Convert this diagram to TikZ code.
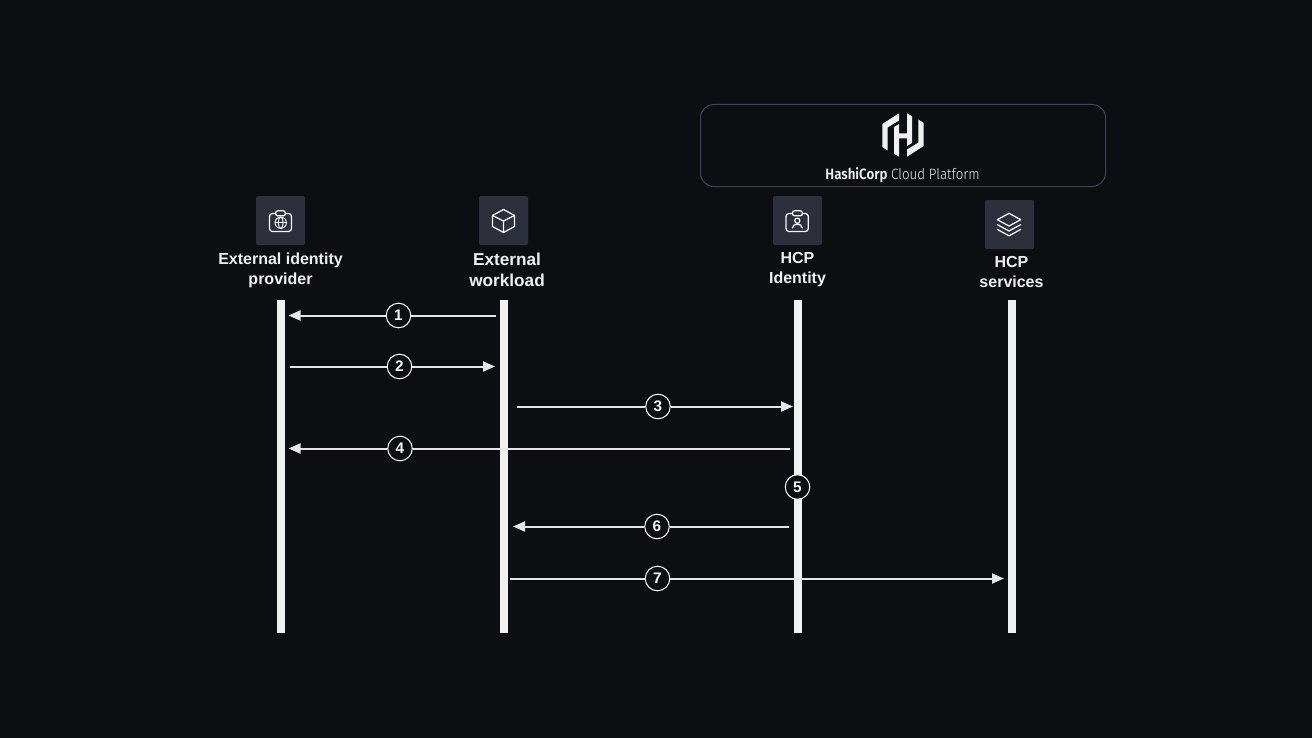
\documentclass[tikz,border=0pt]{standalone}
\usepackage{fontspec}
\setmainfont{Liberation Sans}
\newfontfamily\logofont[FakeStretch=0.89,UprightFont={* Light},BoldFont={* SemiBold}]{Fira Sans}
\usetikzlibrary{arrows.meta}
\tikzset{
  bar/.style={draw=none,fill={rgb, 255:red, 240; green, 240; blue, 240 },minimum width=6pt,minimum height=249.75pt,inner sep=0pt},
  iconbox/.style={draw=none,fill={rgb, 255:red, 44; green, 48; blue, 60 },rounded corners=1pt,minimum width=36.75pt,minimum height=36.75pt,inner sep=0pt},
  icon/.style={color={rgb, 255:red, 245; green, 245; blue, 245 },line width=0.95pt,line join=round,line cap=round},
  title/.style={align=center,inner sep=0.75pt,text={rgb, 255:red, 240; green, 240; blue, 240 },font=\fontsize{12}{15}\selectfont\bfseries},
  stepnum/.style={circle,draw={rgb, 255:red, 245; green, 245; blue, 245 },fill={rgb, 255:red, 13; green, 14; blue, 18 },line width=0.8pt,minimum size=18.4pt,inner sep=0pt,text={rgb, 255:red, 245; green, 245; blue, 245 },font=\fontsize{11.5}{11.5}\selectfont\bfseries},
  msg/.style={color={rgb, 255:red, 230; green, 230; blue, 230 },line width=1.5pt},
  msgtip/.style={msg,-{Triangle[length=9pt,width=7.5pt]}},
  logopart/.style={draw=none,fill={rgb, 255:red, 240; green, 240; blue, 240 }},
}
\begin{document}
\begin{tikzpicture}[x=0.75pt,y=0.75pt,yscale=-1,xscale=1]
%Background
\fill [color={rgb, 255:red, 13; green, 14; blue, 18 }] (0,0) rectangle (1312,738);

%Platform box
\node (platform) [draw={rgb, 255:red, 66; green, 66; blue, 94 },line width=0.75pt,rounded corners=10pt,minimum width=303.75pt,minimum height=61.5pt,inner sep=0pt] at (903,145.5) {};
%Logo
\fill [logopart] (882.3,124) -- (899,113.3) -- (899,120.5) -- (887.6,127.5) -- (887.6,150.5) -- (882.3,147) -- cycle;
\fill [logopart] (923.7,146) -- (907,156.7) -- (907,149.5) -- (918.4,142.5) -- (918.4,119.5) -- (923.7,123) -- cycle;
\fill [logopart] (894,127) -- (899,124) -- (899,133.3) -- (907,133.3) -- (907,113.3) -- (912,116.3) -- (912,143) -- (907,146) -- (907,138.3) -- (899,138.3) -- (899,156.7) -- (894,153.7) -- cycle;
% Text Node
\node (platformname) [inner sep=0.75pt,text={rgb, 255:red, 240; green, 240; blue, 240 },font=\fontsize{11.2}{13}\selectfont\logofont] at (902.5,175) {\textbf{HashiCorp} Cloud Platform};

%Lifelines
\node (idpbar) [bar] at (281,466.5) {};
\node (workloadbar) [bar] at (504,466.5) {};
\node (identitybar) [bar] at (798,466.5) {};
\node (servicesbar) [bar] at (1012,466.5) {};

%Icon boxes
\node (idpicon) [iconbox] at (280.5,220.5) {};
\node (workloadicon) [iconbox] at (503.5,220.5) {};
\node (identityicon) [iconbox] at (797.5,220.5) {};
\node (servicesicon) [iconbox] at (1009.5,224.5) {};

%Shape: badge with globe
\draw [icon] [rounded corners=2.2pt] (269.5,213.5) rectangle (291.5,231.5);
\draw [icon,fill={rgb, 255:red, 44; green, 48; blue, 60 }] [rounded corners=1.5pt] (275.7,210.8) rectangle (285.3,215.8);
\draw [icon,line width=0.7pt] (280.7,222.7) circle [radius=5.7];
\draw [icon,line width=0.7pt] (280.7,222.7) ellipse [x radius=2.4, y radius=5.7];
\draw [icon,line width=0.7pt] (275,222.7) -- (286.4,222.7);
%Shape: cube
\draw [icon] (503.5,209.5) -- (514.5,215.5) -- (514.5,226.5) -- (503.5,232.5) -- (492.5,226.5) -- (492.5,215.5) -- cycle;
\draw [icon] (492.5,215.5) -- (503.5,221) -- (514.5,215.5) (503.5,221) -- (503.5,232.5);
%Shape: badge with person
\draw [icon] [rounded corners=2.2pt] (786,213.5) rectangle (808.3,231.5);
\draw [icon,fill={rgb, 255:red, 44; green, 48; blue, 60 }] [rounded corners=1.5pt] (792.5,210.8) rectangle (802.3,215.8);
\draw [icon] (797.3,220.7) circle [radius=2.6];
\draw [icon] (792.3,228) .. controls (792.8,222.8) and (801.8,222.8) .. (802.3,228);
%Shape: layers
\draw [icon] (1009,213.3) -- (1020.7,219.7) -- (1009,226) -- (997.3,219.7) -- cycle;
\draw [icon] (997.3,224.6) -- (1009,231) -- (1020.7,224.6);
\draw [icon] (997.3,229.4) -- (1009,235.8) -- (1020.7,229.4);

% Text Node
\node (idplabel) [title] at (280.5,270) {External identity\\provider};
\node (workloadlabel) [title,font=\fontsize{12.9}{15.6}\selectfont\bfseries] at (507,269.5) {External\\workload};
\node (identitylabel) [title] at (797.5,269.5) {HCP\\Identity};
\node (serviceslabel) [title] at (1011.5,271.5) {HCP\\services};

%Steps
\node (step1) [stepnum] at (398.5,315.5) {1};
\node (step2) [stepnum] at (399.5,366.5) {2};
\node (step3) [stepnum] at (658,406.5) {3};
\node (step4) [stepnum] at (400,448.5) {4};
\node (step5) [stepnum] at (797.5,487) {5};
\node (step6) [stepnum] at (657,526.5) {6};
\node (step7) [stepnum] at (657.5,578.5) {7};

%Free ends
\coordinate (start1) at (496,315.5);
\coordinate (end1) at (288.5,315.5);
\coordinate (start2) at (290,366.5);
\coordinate (end2) at (495,366.5);
\coordinate (start3) at (517,406.5);
\coordinate (end3) at (793,406.5);
\coordinate (start4) at (790,448.5);
\coordinate (end4) at (288.5,448.5);
\coordinate (start6) at (789,526.5);
\coordinate (end6) at (513,526.5);
\coordinate (start7) at (510,578.5);
\coordinate (end7) at (1004,578.5);

%Straight Lines
\draw [msg] (start1) -- (step1);
\draw [msgtip] (step1) -- (end1);
\draw [msg] (start2) -- (step2);
\draw [msgtip] (step2) -- (end2);
\draw [msg] (start3) -- (step3);
\draw [msgtip] (step3) -- (end3);
\draw [msg] (start4) -- (step4);
\draw [msgtip] (step4) -- (end4);
\draw [msg] (start6) -- (step6);
\draw [msgtip] (step6) -- (end6);
\draw [msg] (start7) -- (step7);
\draw [msgtip] (step7) -- (end7);

\end{tikzpicture}
\end{document}
